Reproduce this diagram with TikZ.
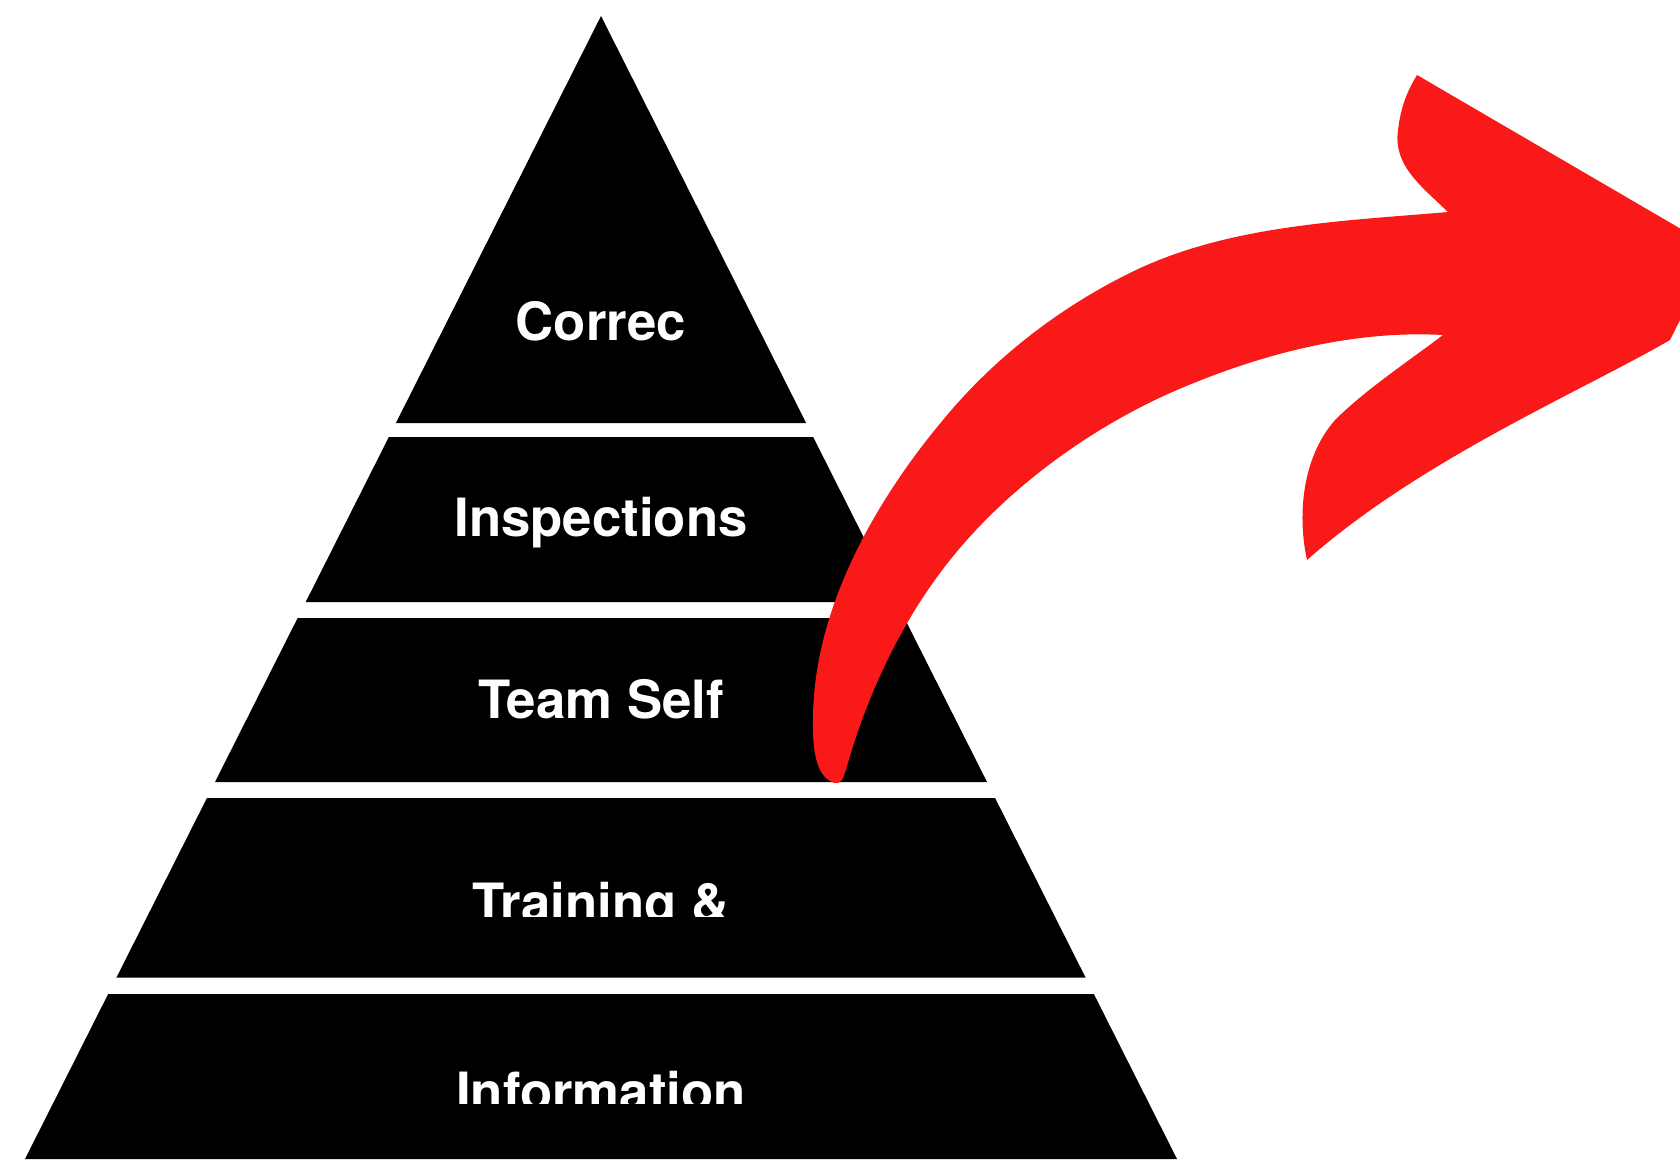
\documentclass[tikz,border=0pt]{standalone}
\usepackage{fontspec}
\setsansfont{TeX Gyre Heros}
\usepackage{tikz}

\definecolor{arrowred}{RGB}{250,25,25}
\tikzset{
	tier/.style={fill=black},
	tierlabel/.style={text=white, font=\sffamily\bfseries\fontsize{15}{18}\selectfont, anchor=base, inner sep=0pt}
}

\begin{document}
\begin{tikzpicture}[x=0.01cm,y=-0.01cm]
	\useasboundingbox (0,0) rectangle (1680,1159);
	\clip (0,0) rectangle (1680,1159);
	% pyramid tiers, cut from one triangle with apex (601,16)
	\foreach \t/\b in {16/423, 437/602, 618/782, 798/977.7, 994/1159}
		\fill[tier] ({601-0.50394*(\t-16)},\t) -- ({601+0.50394*(\t-16)},\t) -- ({601+0.50394*(\b-16)},\b) -- ({601-0.50394*(\b-16)},\b) -- cycle;
	\node[tierlabel] (correc) at (601,340.7) {Correc};
	\node[tierlabel] (inspections) at (601,536.7) {Inspections};
	\node[tierlabel] (teamself) at (601,718.3) {Team Self};
	\begin{scope}
		\clip (0,798) rectangle (1680,916.7);
		\node[tierlabel] (training) at (601,921.3) {Training \&};
	\end{scope}
	\begin{scope}
		\clip (0,994) rectangle (1680,1103.3);
		\node[tierlabel] (information) at (601,1110) {Information};
	\end{scope}
	% red arrow: inner edge, tail, outer edge, then the head
	\fill[arrowred] (1443,335)
		.. controls (1355,330) and (1265,353) .. (1184,387)
		.. controls (1092,425) and (999,493) .. (940,573)
		.. controls (898,629) and (866,699) .. (847,766)
		.. controls (843,781) and (840,784) .. (835,783)
		.. controls (820,779) and (812,760) .. (813,720)
		.. controls (813,606) and (879,493) .. (954,407)
		.. controls (1004,350) and (1067,303) .. (1136,270)
		.. controls (1231,225) and (1343,221) .. (1448,212)
		.. controls (1420,185) and (1393,165) .. (1398,130)
		.. controls (1401,105) and (1408,90) .. (1417,75)
		-- (1705,243) -- (1690,300) -- (1670,340)
		.. controls (1580,392) and (1420,460) .. (1307,560)
		.. controls (1298,520) and (1300,460) .. (1335,420)
		.. controls (1365,390) and (1410,360) .. (1443,335)
		-- cycle;
\end{tikzpicture}
\end{document}
